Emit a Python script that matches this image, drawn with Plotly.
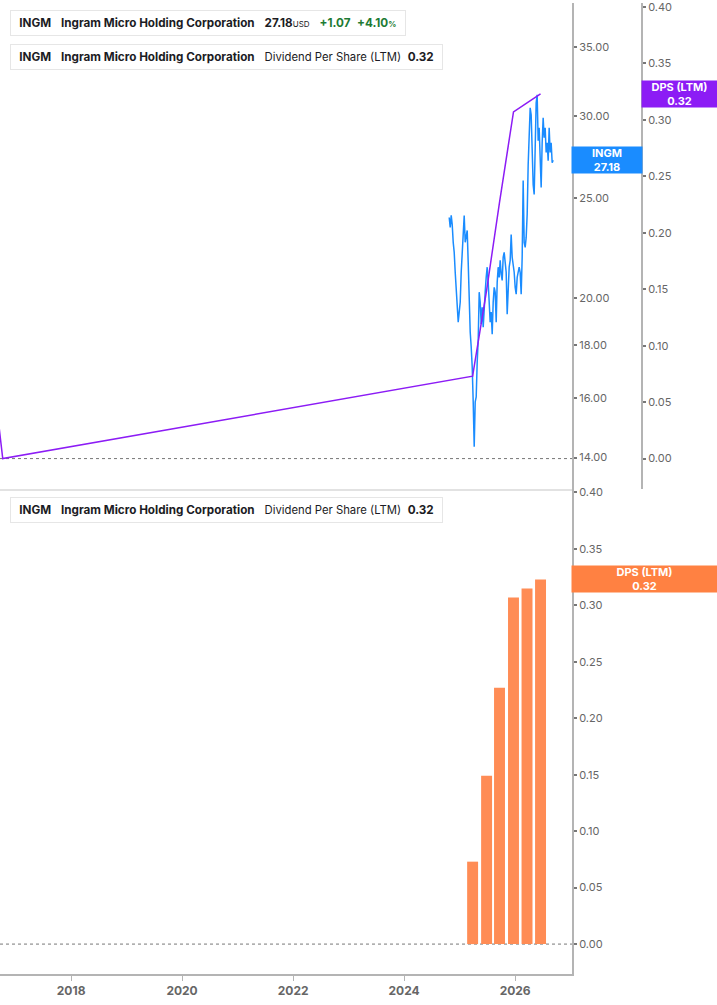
import plotly.graph_objects as go
import pandas as pd
import math

# ---------------- data ----------------
price_start = "2024-10-24"
price_end = "2026-09-08"
prices = [
    23.92, 23.40, 24.03, 23.55, 22.63, 22.13, 21.17, 20.25, 19.58, 18.94,
    19.37, 19.80, 21.17, 22.13, 23.40, 24.03, 22.63, 22.88, 23.24, 21.64,
    19.28, 18.53, 17.92, 17.14, 15.85, 14.34, 15.85, 16.03, 17.33, 18.20,
    20.25, 19.80, 18.86, 19.58, 18.73, 19.80, 20.25, 20.93, 21.41, 20.70,
    19.80, 18.94, 19.37, 18.44, 19.80, 20.47, 20.25, 18.94, 20.70, 21.41,
    20.93, 21.74, 21.07, 20.79, 21.89, 22.13, 21.64, 21.17, 19.28, 20.93,
    21.41, 21.74, 23.03, 21.89, 21.55, 21.17, 20.47, 20.16, 20.93, 21.17,
    21.41, 21.17, 20.16, 21.89, 25.97, 22.63, 22.38, 22.88, 24.08, 26.91,
    29.68, 30.55, 30.08, 26.91, 25.74, 25.18, 28.26, 30.90, 31.45, 28.39,
    29.22, 27.52, 25.57, 28.26, 29.88, 28.58, 29.22, 27.65, 28.26, 27.15,
    29.22, 27.65, 28.26, 27.03, 27.18,
]
price_dates = pd.date_range(price_start, price_end, periods=len(prices))

dps_hist_dates = ["2016-06-01", "2016-10-08"]
dps_hist_values = [0.15, 0.0]
dps_dates = ["2025-03-27", "2025-06-27", "2025-09-20", "2025-12-21", "2026-03-20", "2026-06-17"]
dps_values = [0.073, 0.149, 0.227, 0.307, 0.315, 0.323]

price_ticks = [14, 16, 18, 20, 25, 30, 35]
year_ticks = ["2018-01-01", "2020-01-01", "2022-01-01", "2024-01-01", "2026-01-01"]
year_labels = ["2018", "2020", "2022", "2024", "2026"]

last_price = 27.18
price_change = 1.07
price_change_pct = 4.10
last_dps = 0.32

# ---------------- style ----------------
BLUE = "#1a8cff"
PURPLE = "#8c1cf5"
ORANGE_BAR = "#ff8c55"
ORANGE_BOX = "#ff8142"
GREEN = "#1e7b34"
AXIS = "#b4b4b4"
TICKC = "#666666"
TXT = "#1c1c24"
FONT = "Inter"

W, H = 717, 1005
ML, MR, MT, MB = 0, 75, 0, 31
PW = W - ML - MR          # 642
PH = H - MT - MB          # 974
D = 572 / PW              # x domain end
XR = ["2016-09-20", "2027-01-10"]
DPS_RANGE = [-0.0265, 0.4035]

fig = go.Figure()
fig.add_trace(go.Scatter(x=price_dates, y=prices, xaxis="x", yaxis="y", mode="lines",
                         line=dict(color=BLUE, width=1.5), hoverinfo="skip"))
fig.add_trace(go.Scatter(x=dps_hist_dates + dps_dates, y=dps_hist_values + dps_values,
                         xaxis="x", yaxis="y2", mode="lines",
                         line=dict(color=PURPLE, width=1.5), hoverinfo="skip"))
fig.add_trace(go.Bar(x=pd.to_datetime(dps_dates), y=dps_values, xaxis="x2", yaxis="y3",
                     marker=dict(color=ORANGE_BAR, line=dict(width=0)),
                     width=72 * 86400000, hoverinfo="skip"))

tickfont = dict(family=FONT, size=11, color=TICKC)
common_y = dict(showgrid=False, zeroline=False, showline=True, linecolor=AXIS, linewidth=2,
                ticks="outside", ticklen=3, tickwidth=2, tickcolor="#777", tickfont=tickfont,
                ticklabeloverflow="allow")

fig.update_layout(
    width=W, height=H, margin=dict(l=ML, r=MR, t=MT, b=MB),
    paper_bgcolor="white", plot_bgcolor="white", showlegend=False,
    xaxis=dict(domain=[0, D], range=XR, anchor="y", type="date", showticklabels=False,
               showgrid=False, zeroline=False, showline=True, linecolor="#e2e2e2",
               linewidth=2, ticks=""),
    xaxis2=dict(domain=[0, D], range=XR, anchor="y3", type="date", showgrid=False,
                zeroline=False, showline=True, linecolor=AXIS, linewidth=2,
                tickvals=year_ticks, ticktext=["<b>%s</b>" % t for t in year_labels],
                ticks="outside", ticklen=5, tickcolor=AXIS,
                tickfont=dict(family=FONT, size=12, color=TICKC)),
    yaxis=dict(domain=[0.5, 1], type="log", range=[1.11619, 1.58657], side="right",
               anchor="x", tickvals=price_ticks, tickformat=".2f", **common_y),
    yaxis2=dict(overlaying="y", side="right", anchor="free", position=1,
                range=DPS_RANGE, tick0=0, dtick=0.05, tickformat=".2f", **common_y),
    yaxis3=dict(domain=[0, 0.5], side="right", anchor="x2", range=DPS_RANGE,
                tick0=0, dtick=0.05, tickformat=".2f", **common_y),
)

shapes = [
    dict(type="line", xref="paper", x0=0, x1=D, yref="y2", y0=0, y1=0,
         line=dict(color="#777", width=1, dash="dot"), layer="below"),
    dict(type="line", xref="paper", x0=0, x1=D, yref="y3", y0=0, y1=0,
         line=dict(color="#777", width=1, dash="dot"), layer="below"),
]

annotations = []

def legend_box(text, color, top_px, bottom_px):
    cy = 1 - ((top_px + bottom_px) / 2) / PH
    annotations.append(dict(
        xref="paper", yref="paper", x=10 / PW, y=cy, xanchor="left", yanchor="middle",
        text=text, showarrow=False, align="left",
        font=dict(family=FONT, size=11.7, color=TXT),
        bgcolor="white", bordercolor="#e6e6e6", borderwidth=1, borderpad=5))
    shapes.append(dict(type="rect", xref="paper", yref="paper",
                       x0=10 / PW, x1=14 / PW,
                       y0=1 - bottom_px / PH, y1=1 - top_px / PH,
                       fillcolor=color, line=dict(width=0), layer="above"))

sp = "&nbsp;&nbsp;&nbsp;"
sp2 = "&nbsp;&nbsp;"
t1 = ("&nbsp;<b>INGM</b>" + sp + "<b>Ingram Micro Holding Corporation</b>" + sp +
      "<b>%.2f</b><span style='font-size:8px'>USD</span>" % last_price + sp +
      "<span style='color:%s'><b>+%.2f</b></span>" % (GREEN, price_change) + sp2 +
      "<span style='color:%s'><b>+%.2f</b><span style='font-size:8px'><b>%%</b></span></span>"
      % (GREEN, price_change_pct) + "&nbsp;")
t2 = ("&nbsp;<b>INGM</b>" + sp + "<b>Ingram Micro Holding Corporation</b>" + sp +
      "<span style='font-size:11.3px'>Dividend Per Share (LTM)</span>" + sp2 +
      "<b>%.2f</b>&nbsp;" % last_dps)

legend_box(t1, BLUE, 8, 33)
legend_box(t2, PURPLE, 42, 67)
legend_box(t2, ORANGE_BOX, 497, 521)

# right side value labels
annotations.append(dict(xref="paper", yref="y", x=607 / PW, y=math.log10(last_price),
                        xanchor="center", yanchor="middle", showarrow=False,
                        text="<b>INGM</b><br><b>%.2f</b>" % last_price,
                        font=dict(family=FONT, size=11, color="white"),
                        bgcolor=BLUE, width=70, height=26, borderpad=0))
annotations.append(dict(xref="paper", yref="y2", x=679.5 / PW, y=dps_values[-1],
                        xanchor="center", yanchor="middle", showarrow=False,
                        text="<b>DPS (LTM)</b><br><b>%.2f</b>" % last_dps,
                        font=dict(family=FONT, size=11, color="white"),
                        bgcolor=PURPLE, width=75, height=26, borderpad=0))
annotations.append(dict(xref="paper", yref="y3", x=644.5 / PW, y=dps_values[-1],
                        xanchor="center", yanchor="middle", showarrow=False,
                        text="<b>DPS (LTM)</b><br><b>%.2f</b>" % last_dps,
                        font=dict(family=FONT, size=11, color="white"),
                        bgcolor=ORANGE_BOX, width=145, height=26, borderpad=0))

fig.update_layout(shapes=shapes, annotations=annotations)
fig.write_html("out.html", config={"displayModeBar": False},
               post_script="document.body.style.margin='0';document.body.style.overflow='hidden';")
